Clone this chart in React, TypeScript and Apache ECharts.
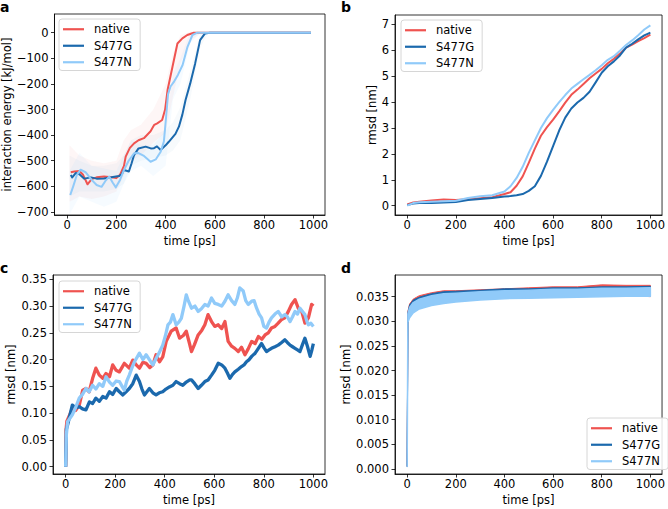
import React, { useEffect, useRef } from 'react';
import * as echarts from 'echarts';

// ---------- tick labels ----------
const xTicks = [0, 200, 400, 600, 800, 1000];
const aYTicks = [-700, -600, -500, -400, -300, -200, -100, 0];
const bYTicks = [0, 1, 2, 3, 4, 5, 6, 7];
const cYTicks = [0, 0.05, 0.1, 0.15, 0.2, 0.25, 0.3, 0.35];
const dYTicks = [0, 0.005, 0.01, 0.015, 0.02, 0.025, 0.03, 0.035];
const seriesNames = ['native', 'S477G', 'S477N'];

// ---------- panel a: interaction energy (smoothed) ----------
const aNative = [[15,-545],[30,-542],[50,-540],[65,-555],[83,-592],[100,-572],[120,-565],[150,-562],[180,-565],[200,-568],[215,-555],[231,-520],[238,-484],[255,-450],[272,-432],[290,-420],[312,-412],[339,-385],[354,-360],[366,-354],[386,-341],[398,-300],[408,-224],[428,-133],[448,-42],[468,-22],[488,-9],[515,0],[540,0],[600,0],[700,0],[800,0],[900,0],[990,0]];
const aG = [[15,-556],[21,-565],[35,-548],[50,-553],[70,-570],[97,-565],[120,-570],[150,-569],[180,-565],[211,-560],[222,-553],[231,-536],[251,-542],[262,-510],[272,-478],[290,-452],[319,-445],[340,-452],[353,-451],[365,-444],[380,-458],[400,-440],[413,-426],[440,-395],[454,-367],[468,-320],[481,-263],[500,-198],[520,-120],[540,-29],[560,-3],[580,0],[700,0],[800,0],[900,0],[990,0]];
const aN = [[13,-634],[25,-600],[40,-555],[55,-535],[75,-545],[100,-575],[120,-595],[140,-602],[155,-580],[171,-562],[185,-585],[198,-604],[215,-575],[231,-536],[250,-500],[272,-471],[290,-470],[310,-480],[339,-504],[360,-495],[380,-465],[393,-425],[402,-330],[410,-240],[420,-210],[435,-190],[450,-165],[469,-126],[489,-55],[509,-9],[529,0],[600,0],[700,0],[800,0],[900,0],[990,0]];
// faint raw-data envelopes of panel a
const aBandX = [10, 50, 100, 150, 200, 230, 260, 300, 350, 400, 430, 460, 500, 540, 570, 990];
const aNativeLo = [-660,-640,-650,-640,-620,-560,-500,-480,-430,-390,-250,-120,-30,-4,-4,-4];
const aNativeHi = [-440,-480,-500,-510,-500,-420,-380,-360,-300,-200,-80,-10,4,4,4,4];
const aGLo = [-640,-620,-620,-620,-610,-590,-520,-500,-490,-480,-460,-420,-260,-60,-5,-4];
const aGHi = [-480,-500,-520,-520,-510,-480,-420,-400,-400,-380,-350,-290,-150,-5,4,4];
const aNLo = [-710,-640,-660,-680,-660,-590,-540,-520,-560,-520,-260,-200,-40,-4,-4,-4];
const aNHi = [-540,-470,-520,-530,-540,-480,-420,-440,-440,-380,-160,-100,4,4,4,4];

// ---------- panel b: rmsd ----------
const bX = [0,25,50,100,150,200,250,300,350,400,425,450,475,500,525,550,575,600,625,650,675,700,725,750,775,800,825,850,875,900,925,950,975,1000];
const bNative = [0.05,0.12,0.15,0.2,0.24,0.22,0.25,0.29,0.33,0.45,0.52,0.77,1.13,1.65,2.2,2.7,3.03,3.32,3.64,3.98,4.28,4.48,4.7,4.92,5.1,5.28,5.5,5.67,5.87,6.1,6.22,6.35,6.47,6.6];
const bG = [0.02,0.08,0.1,0.1,0.12,0.14,0.22,0.26,0.3,0.35,0.37,0.4,0.45,0.57,0.75,1.15,1.7,2.3,2.9,3.4,3.75,3.98,4.16,4.4,4.76,5.13,5.38,5.57,5.8,6.1,6.25,6.42,6.57,6.68];
const bN = [0.0,0.1,0.13,0.15,0.17,0.19,0.3,0.36,0.4,0.55,0.75,1.07,1.5,2.04,2.52,3.0,3.38,3.7,4.0,4.27,4.52,4.7,4.88,5.05,5.23,5.42,5.63,5.77,5.98,6.2,6.38,6.58,6.8,6.96];

// ---------- panel c: rmsd (noisy) ----------
const cNative = [[0,0],[2,0.07],[5,0.085],[15,0.095],[27,0.109],[40,0.105],[55,0.115],[69,0.143],[82,0.146],[95,0.14],[109,0.165],[122,0.184],[136,0.171],[150,0.165],[163,0.174],[177,0.168],[190,0.19],[204,0.18],[217,0.177],[237,0.193],[257,0.184],[271,0.199],[285,0.19],[298,0.184],[312,0.195],[325,0.193],[340,0.185],[352,0.19],[365,0.209],[379,0.196],[392,0.205],[406,0.234],[426,0.253],[446,0.259],[460,0.24],[475,0.245],[487,0.253],[500,0.23],[508,0.215],[520,0.228],[535,0.246],[550,0.255],[562,0.265],[575,0.284],[589,0.271],[602,0.262],[616,0.265],[630,0.258],[643,0.271],[656,0.234],[670,0.225],[683,0.221],[697,0.215],[710,0.223],[724,0.209],[737,0.22],[751,0.234],[765,0.23],[778,0.243],[792,0.238],[805,0.246],[818,0.25],[831,0.259],[845,0.262],[858,0.268],[872,0.275],[885,0.278],[899,0.29],[912,0.303],[926,0.312],[939,0.296],[953,0.29],[966,0.268],[980,0.278],[993,0.303],[1000,0.3]];
const cG = [[0,0],[3,0.07],[8,0.078],[27,0.115],[41,0.11],[55,0.112],[68,0.108],[82,0.106],[96,0.121],[109,0.118],[122,0.128],[136,0.122],[150,0.131],[163,0.128],[177,0.14],[190,0.135],[204,0.146],[217,0.14],[231,0.134],[244,0.14],[257,0.146],[271,0.155],[285,0.171],[298,0.159],[308,0.145],[318,0.134],[328,0.14],[338,0.146],[352,0.138],[365,0.134],[378,0.138],[392,0.14],[405,0.145],[419,0.149],[433,0.152],[446,0.159],[460,0.155],[473,0.152],[487,0.158],[501,0.162],[508,0.162],[521,0.155],[535,0.146],[548,0.152],[562,0.159],[575,0.162],[589,0.171],[602,0.18],[616,0.193],[630,0.19],[643,0.184],[653,0.175],[663,0.165],[673,0.172],[683,0.177],[697,0.182],[710,0.187],[720,0.19],[730,0.196],[741,0.2],[751,0.206],[765,0.212],[778,0.221],[791,0.23],[801,0.222],[811,0.215],[821,0.218],[831,0.221],[845,0.224],[858,0.227],[872,0.232],[885,0.237],[895,0.232],[906,0.227],[916,0.224],[926,0.221],[936,0.218],[946,0.215],[956,0.228],[966,0.24],[976,0.225],[987,0.206],[994,0.218],[1000,0.23]];
const cN = [[0,0],[3,0.06],[8,0.084],[27,0.097],[40,0.11],[55,0.128],[68,0.135],[82,0.146],[95,0.14],[109,0.152],[122,0.145],[136,0.155],[150,0.15],[163,0.168],[177,0.158],[190,0.152],[204,0.16],[217,0.159],[228,0.15],[237,0.143],[247,0.16],[257,0.171],[268,0.185],[278,0.196],[298,0.212],[312,0.2],[325,0.209],[338,0.2],[352,0.19],[365,0.202],[380,0.215],[392,0.227],[403,0.245],[413,0.265],[423,0.27],[433,0.284],[446,0.265],[457,0.27],[467,0.277],[478,0.3],[487,0.321],[495,0.31],[508,0.296],[522,0.3],[535,0.29],[548,0.295],[562,0.303],[575,0.3],[589,0.315],[602,0.305],[616,0.303],[630,0.3],[643,0.309],[656,0.321],[670,0.31],[683,0.303],[693,0.315],[703,0.334],[717,0.328],[727,0.31],[737,0.303],[751,0.309],[761,0.31],[771,0.296],[781,0.285],[791,0.278],[800,0.262],[811,0.259],[821,0.27],[831,0.278],[845,0.285],[858,0.29],[872,0.28],[885,0.284],[895,0.28],[906,0.271],[916,0.28],[926,0.29],[936,0.285],[946,0.296],[956,0.29],[966,0.284],[975,0.27],[980,0.265],[990,0.268],[1000,0.262]];

// ---------- panel d: rmsd envelopes (dense noise bands) ----------
const dX = [0, 3, 10, 25, 50, 100, 150, 200, 300, 400, 500, 600, 700, 800, 900, 1000];
const dNativeLo = [0.0005,0.0300,0.0315,0.0326,0.0333,0.0338,0.0341,0.0344,0.0347,0.0349,0.0349,0.0350,0.0352,0.0353,0.0353,0.0350];
const dNativeHi = [0.0005,0.0320,0.0335,0.0345,0.0352,0.0358,0.0362,0.0362,0.0364,0.0366,0.0368,0.0370,0.0370,0.0374,0.0373,0.0373];
const dGLo = [0.0005,0.0300,0.0316,0.0327,0.0333,0.0339,0.0342,0.0345,0.0348,0.0350,0.0351,0.0352,0.0353,0.0355,0.0355,0.0354];
const dGHi = [0.0005,0.0318,0.0333,0.0343,0.0349,0.0356,0.0360,0.0361,0.0363,0.0366,0.0366,0.0368,0.0368,0.0370,0.0370,0.0371];
const dNLo = [0.0005,0.0298,0.0307,0.0317,0.0325,0.0332,0.0336,0.0339,0.0343,0.0346,0.0347,0.0348,0.0349,0.0350,0.0351,0.0351];
const dNHi = [0.0005,0.0315,0.0328,0.0338,0.0345,0.0352,0.0356,0.0357,0.0360,0.0362,0.0363,0.0365,0.0365,0.0367,0.0367,0.0368];

const RED = '#EF5350';
const DBLUE = '#1B69AD';
const LBLUE = '#90CAF9';
const COLORS = [RED, DBLUE, LBLUE];
const FONT = 'DejaVu Sans';
const FS = 11.5;

const minusFmt = (digits: number) => (v: number) => {
  const s = Math.abs(v).toFixed(digits);
  return v < -1e-12 ? '\u2212' + s : s;
};

function xAxis(gi: number, min: number, max: number) {
  return {
    type: 'value', gridIndex: gi, min, max,
    name: 'time [ps]', nameLocation: 'middle', nameGap: 20,
    nameTextStyle: { fontFamily: FONT, fontSize: FS, color: '#000' },
    axisLine: { show: true, onZero: false, lineStyle: { color: '#000', width: 0.8 } },
    splitLine: { show: false },
    axisTick: { show: true, customValues: xTicks, length: 3.5, lineStyle: { color: '#000', width: 0.8 } },
    axisLabel: { customValues: xTicks, margin: 4, fontFamily: FONT, fontSize: FS, color: '#000', formatter: minusFmt(0) },
  };
}

function yAxis(gi: number, min: number, max: number, ticks: number[], digits: number, name: string, gap: number) {
  return {
    type: 'value', gridIndex: gi, min, max,
    name, nameLocation: 'middle', nameGap: gap,
    nameTextStyle: { fontFamily: FONT, fontSize: FS, color: '#000' },
    axisLine: { show: true, onZero: false, lineStyle: { color: '#000', width: 0.8 } },
    splitLine: { show: false },
    axisTick: { show: true, customValues: ticks, length: 3.5, lineStyle: { color: '#000', width: 0.8 } },
    axisLabel: { customValues: ticks, margin: 6, fontFamily: FONT, fontSize: FS, color: '#000', formatter: minusFmt(digits) },
  };
}

function line(name: string, gi: number, data: number[][], color: string, width: number) {
  return {
    type: 'line', name, xAxisIndex: gi, yAxisIndex: gi, data,
    symbol: 'none', showSymbol: false, color,
    itemStyle: { color },
    lineStyle: { color, width, join: 'round' },
    animation: false, silent: true,
  };
}

function band(gi: number, xs: number[], lo: number[], hi: number[], color: string, opacity: number, strokeW: number) {
  return {
    type: 'custom', xAxisIndex: gi, yAxisIndex: gi, silent: true,
    data: [[xs[0], lo[0]]],
    renderItem: (params: any, api: any) => {
      const pts: number[][] = [];
      for (let i = 0; i < xs.length; i++) pts.push(api.coord([xs[i], hi[i]]));
      for (let i = xs.length - 1; i >= 0; i--) pts.push(api.coord([xs[i], lo[i]]));
      return {
        type: 'polygon',
        shape: { points: pts },
        style: { fill: color, opacity, stroke: strokeW > 0 ? color : 'none', lineWidth: strokeW, lineJoin: 'round' },
      };
    },
  };
}

function legend(left: number, top: number) {
  return {
    orient: 'vertical', left, top,
    data: seriesNames,
    icon: 'rect', itemWidth: 21, itemHeight: 2.2, itemGap: 4,
    backgroundColor: 'rgba(255,255,255,0.85)',
    borderColor: '#d6d6d6', borderWidth: 1, borderRadius: 3,
    padding: [4, 8, 2, 4],
    selectedMode: false,
    textStyle: { fontFamily: FONT, fontSize: 11.5, color: '#000', padding: [0, 0, 0, 5], lineHeight: 12.5, height: 12.5 },
  };
}

export default function App() {
  const ref = useRef<HTMLDivElement>(null);
  useEffect(() => {
    if (!ref.current) return;
    const chart = echarts.init(ref.current, null, { renderer: 'svg' });
    const grids = [
      { left: 53, top: 14, width: 272, height: 201 },
      { left: 395, top: 15, width: 272, height: 200 },
      { left: 53, top: 275, width: 272, height: 199 },
      { left: 395, top: 275, width: 272, height: 199 },
    ].map((g) => ({ ...g, show: true, borderColor: '#000', borderWidth: 0.8, backgroundColor: 'transparent', containLabel: false }));

    const bPairs = (ys: number[]) => bX.map((x, i) => [x, ys[i]]);

    const option: any = {
      animation: false,
      backgroundColor: '#fff',
      color: COLORS,
      grid: grids,
      xAxis: [xAxis(0, -51, 1047), xAxis(1, -50, 1048), xAxis(2, -51, 1047), xAxis(3, -50, 1048)],
      yAxis: [
        yAxis(0, -712, 73, aYTicks, 0, 'interaction energy [kJ/mol]', 39),
        yAxis(1, -0.36, 7.36, bYTicks, 0, 'rmsd [nm]', 16),
        yAxis(2, -0.0137, 0.358, cYTicks, 2, 'rmsd [nm]', 34),
        yAxis(3, -0.00102, 0.0394, dYTicks, 3, 'rmsd [nm]', 40),
      ],
      legend: [legend(59, 19), legend(401, 20), legend(59, 281), legend(587, 418)],
      graphic: [
        { type: 'text', left: 0, top: 0, style: { text: 'a', font: `bold 14px ${FONT}`, fill: '#000' } },
        { type: 'text', left: 341, top: 0, style: { text: 'b', font: `bold 14px ${FONT}`, fill: '#000' } },
        { type: 'text', left: 0, top: 261, style: { text: 'c', font: `bold 14px ${FONT}`, fill: '#000' } },
        { type: 'text', left: 341, top: 261, style: { text: 'd', font: `bold 14px ${FONT}`, fill: '#000' } },
      ],
      series: [
        // panel a
        band(0, aBandX, aNativeLo, aNativeHi, RED, 0.05, 0),
        band(0, aBandX, aGLo, aGHi, DBLUE, 0.035, 0),
        band(0, aBandX, aNLo, aNHi, LBLUE, 0.08, 0),
        line('native', 0, aNative, RED, 2),
        line('S477G', 0, aG, DBLUE, 2),
        line('S477N', 0, aN, LBLUE, 2),
        // panel b
        line('native', 1, bPairs(bNative), RED, 2),
        line('S477G', 1, bPairs(bG), DBLUE, 2),
        line('S477N', 1, bPairs(bN), LBLUE, 2),
        // panel c
        line('native', 2, cNative, RED, 3.3),
        line('S477G', 2, cG, DBLUE, 3.3),
        line('S477N', 2, cN, LBLUE, 3.3),
        // panel d
        band(3, dX, dNativeLo, dNativeHi, RED, 1, 1),
        band(3, dX, dGLo, dGHi, DBLUE, 1, 1),
        band(3, dX, dNLo, dNHi, LBLUE, 1, 1.5),
      ],
    };
    chart.setOption(option);
    return () => chart.dispose();
  }, []);
  return <div ref={ref} style={{ position: 'fixed', left: 0, top: 0, width: 668, height: 509, background: '#fff' }} />;
}
